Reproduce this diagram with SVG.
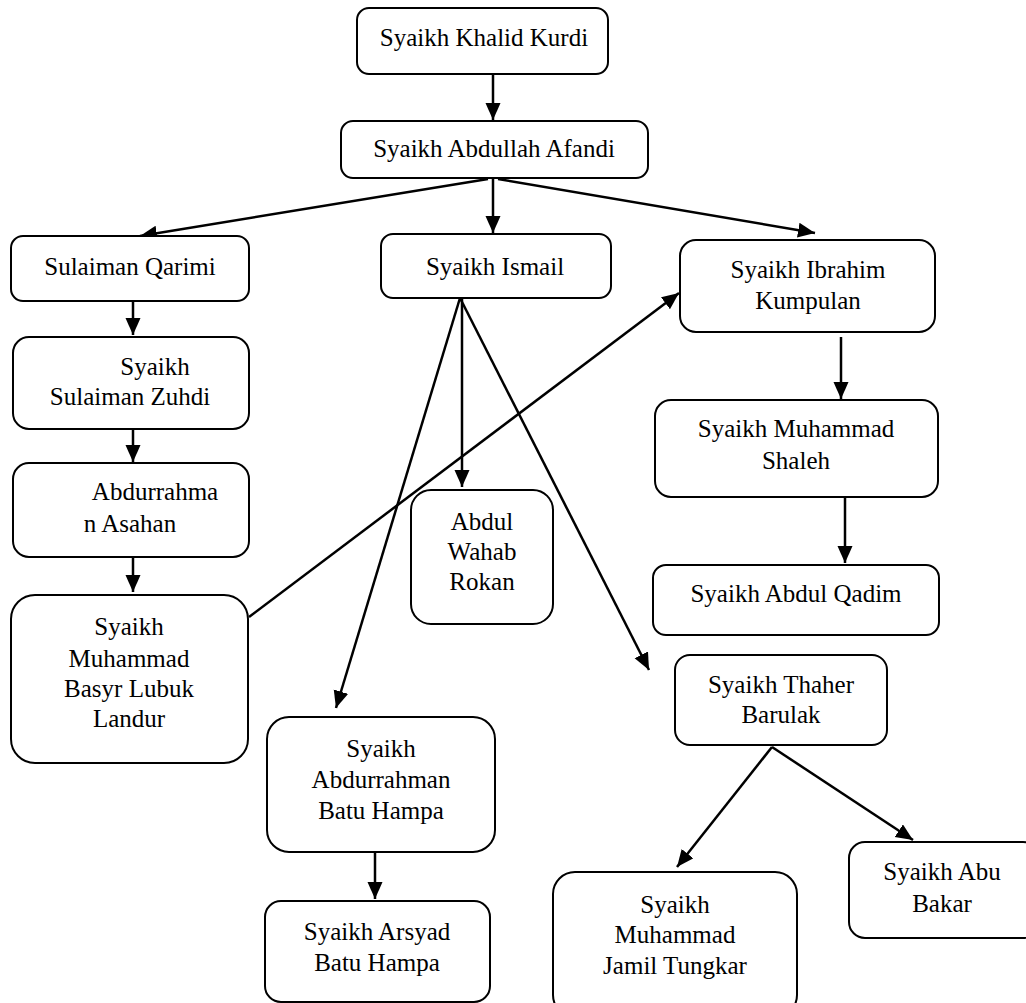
<svg xmlns="http://www.w3.org/2000/svg" width="1026" height="1003" viewBox="0 0 1026 1003" font-family="'Liberation Serif', 'Times New Roman', 'DejaVu Serif', serif">
<defs>
<style>
.box{fill:#fff;stroke:#000;stroke-width:2}
.t{font-size:25px;fill:#000;text-anchor:middle}
.c{stroke:#000;stroke-width:2.5;fill:none;marker-end:url(#ah)}
</style>
<marker id="ah" markerUnits="userSpaceOnUse" markerWidth="18" markerHeight="16" refX="17" refY="7.5" orient="auto">
<path d="M0,0 L17,7.5 L0,15 z" fill="#000"/>
</marker>
</defs>
<rect width="1026" height="1003" fill="#fff"/>
<g id="connectors">
<line class="c" x1="493" y1="74" x2="493" y2="120"/>
<line class="c" x1="488" y1="179" x2="140" y2="236"/>
<line class="c" x1="493" y1="179" x2="493" y2="233"/>
<line class="c" x1="498" y1="179" x2="815" y2="233"/>
<line class="c" x1="133" y1="301" x2="133" y2="335"/>
<line class="c" x1="133" y1="429" x2="133" y2="462"/>
<line class="c" x1="133" y1="557" x2="133" y2="592"/>
<line class="c" x1="249" y1="617" x2="679" y2="293"/>
<line class="c" x1="462" y1="298" x2="462" y2="487"/>
<line class="c" x1="460" y1="298" x2="336" y2="708"/>
<line class="c" x1="460" y1="298" x2="649" y2="670"/>
<line class="c" x1="841" y1="337" x2="841" y2="399"/>
<line class="c" x1="845" y1="497" x2="845" y2="563"/>
<line class="c" x1="772" y1="747" x2="677" y2="867"/>
<line class="c" x1="772" y1="747" x2="913" y2="840"/>
<line class="c" x1="375" y1="852" x2="375" y2="899"/>
</g>
<g id="n-khalid"><rect class="box" x="357" y="8" width="251" height="66" rx="12"/><text class="t" x="484" y="46">Syaikh Khalid Kurdi</text></g>
<g id="n-abdullah"><rect class="box" x="341" y="121" width="307" height="57" rx="12"/><text class="t" x="494" y="157">Syaikh Abdullah Afandi</text></g>
<g id="n-qarimi"><rect class="box" x="11" y="236" width="238" height="65" rx="12"/><text class="t" x="130" y="275">Sulaiman Qarimi</text></g>
<g id="n-ismail"><rect class="box" x="381" y="234" width="230" height="64" rx="12"/><text class="t" x="495" y="275">Syaikh Ismail</text></g>
<g id="n-ibrahim"><rect class="box" x="680" y="240" width="255" height="92" rx="16"/><text class="t" x="808" y="278">Syaikh Ibrahim</text><text class="t" x="808" y="309">Kumpulan</text></g>
<g id="n-shaleh"><rect class="box" x="655" y="400" width="283" height="97" rx="16"/><text class="t" x="796" y="437">Syaikh Muhammad</text><text class="t" x="796" y="469">Shaleh</text></g>
<g id="n-qadim"><rect class="box" x="653" y="565" width="286" height="70" rx="13"/><text class="t" x="796" y="602">Syaikh Abdul Qadim</text></g>
<g id="n-thaher"><rect class="box" x="675" y="655" width="212" height="90" rx="15"/><text class="t" x="781" y="693">Syaikh Thaher</text><text class="t" x="781" y="723">Barulak</text></g>
<g id="n-abubakar"><rect class="box" x="849" y="842" width="190" height="96" rx="16"/><text class="t" x="942" y="880">Syaikh Abu</text><text class="t" x="942" y="912">Bakar</text></g>
<g id="n-jamil"><rect class="box" x="553" y="872" width="244" height="145" rx="22"/><text class="t" x="675" y="913">Syaikh</text><text class="t" x="675" y="943">Muhammad</text><text class="t" x="675" y="974">Jamil Tungkar</text></g>
<g id="n-zuhdi"><rect class="box" x="13" y="337" width="236" height="92" rx="16"/><text class="t" x="155" y="375">Syaikh</text><text class="t" x="130" y="405">Sulaiman Zuhdi</text></g>
<g id="n-asahan"><rect class="box" x="13" y="463" width="236" height="94" rx="16"/><text class="t" x="155" y="500">Abdurrahma</text><text class="t" x="130" y="532">n Asahan</text></g>
<g id="n-basyr"><rect class="box" x="11" y="595" width="237" height="168" rx="24"/><text class="t" x="129" y="635">Syaikh</text><text class="t" x="129" y="667">Muhammad</text><text class="t" x="129" y="697">Basyr Lubuk</text><text class="t" x="129" y="727">Landur</text></g>
<g id="n-wahab"><rect class="box" x="411" y="490" width="142" height="134" rx="20"/><text class="t" x="482" y="530">Abdul</text><text class="t" x="482" y="560">Wahab</text><text class="t" x="482" y="590">Rokan</text></g>
<g id="n-abdurrahman-bh"><rect class="box" x="267" y="717" width="228" height="135" rx="22"/><text class="t" x="381" y="757">Syaikh</text><text class="t" x="381" y="788">Abdurrahman</text><text class="t" x="381" y="819">Batu Hampa</text></g>
<g id="n-arsyad"><rect class="box" x="265" y="901" width="225" height="101" rx="16"/><text class="t" x="377" y="940">Syaikh Arsyad</text><text class="t" x="377" y="971">Batu Hampa</text></g>
</svg>
